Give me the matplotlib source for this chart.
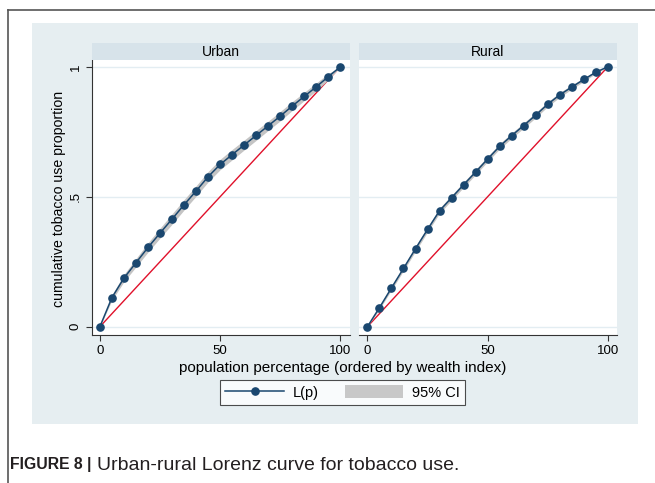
import matplotlib
matplotlib.use("Agg")
import matplotlib.pyplot as plt
from matplotlib.patches import Rectangle, Patch
from matplotlib.lines import Line2D

plt.rcParams['font.family'] = ['Liberation Sans', 'DejaVu Sans']

# population percentage (x) and cumulative tobacco use proportion L(p)
pop_pct = [0, 5, 10, 15, 20, 25, 30, 35, 40, 45, 50,
           55, 60, 65, 70, 75, 80, 85, 90, 95, 100]
urban_lp = [0, 0.112, 0.187, 0.246, 0.305, 0.360, 0.414, 0.469, 0.522, 0.577, 0.624,
            0.662, 0.699, 0.736, 0.773, 0.810, 0.849, 0.886, 0.923, 0.962, 1.0]
rural_lp = [0, 0.073, 0.149, 0.224, 0.300, 0.374, 0.446, 0.496, 0.546, 0.595, 0.645,
            0.694, 0.735, 0.774, 0.814, 0.856, 0.892, 0.922, 0.951, 0.979, 1.0]
# half-width of the 95% CI
urban_ci = [0, 0.010, 0.014, 0.016, 0.018, 0.019, 0.020, 0.020, 0.020, 0.020, 0.020,
            0.020, 0.019, 0.019, 0.018, 0.018, 0.017, 0.016, 0.015, 0.012, 0]
rural_ci = [0, 0.006, 0.008, 0.009, 0.010, 0.010, 0.010, 0.010, 0.010, 0.010, 0.010,
            0.010, 0.010, 0.010, 0.010, 0.009, 0.009, 0.008, 0.007, 0.005, 0]
panels = ["Urban", "Rural"]

W, H = 655, 483
fig = plt.figure(figsize=(W / 100, H / 100), dpi=100)
fig.patch.set_facecolor('white')

def box(x0, y0, x1, y1):
    # pixel box (top-left origin) -> figure fraction rect
    return [x0 / W, 1 - y1 / H, (x1 - x0) / W, (y1 - y0) / H]

# page frame lines and stata background
fig.add_artist(Line2D([7.5 / W, 7.5 / W], [0, 1 - 10 / H], color='#555555', lw=1.2,
                      transform=fig.transFigure))
fig.add_artist(Line2D([7.5 / W, 1], [1 - 10 / H, 1 - 10 / H], color='#555555', lw=1.2,
                      transform=fig.transFigure))
fig.add_artist(Rectangle((32 / W, 1 - 424 / H), (638 - 32) / W, (424 - 23) / H,
                         transform=fig.transFigure, facecolor='#e6eef1', edgecolor='none',
                         zorder=0))

navy = '#1a476f'
red = '#e0112b'
positions = [(91.5, 349.5), (359, 617)]
data = [(urban_lp, urban_ci), (rural_lp, rural_ci)]

for i, (name, (x0, x1), (lp, ci)) in enumerate(zip(panels, positions, data)):
    ax = fig.add_axes(box(x0, 60, x1, 335))
    ax.set_facecolor('white')
    lo = [v - c for v, c in zip(lp, ci)]
    hi = [v + c for v, c in zip(lp, ci)]
    ax.plot([0, 100], [0, 1], color=red, lw=1.0, zorder=1)
    ax.fill_between(pop_pct, lo, hi, color='#c4c4c4', lw=0, zorder=2)
    ax.plot(pop_pct, lp, color=navy, lw=1.1, marker='o', ms=5.2, zorder=3)
    ax.set_xlim(-3.5, 103.8)
    ax.set_ylim(-0.032, 1.026)
    ax.set_xticks([0, 50, 100])
    ax.set_yticks([0, 0.5, 1])
    ax.set_yticklabels(['0', '.5', '1'], rotation=90, va='center')
    ax.grid(axis='y', color='#e3edf2', lw=1.0)
    ax.set_axisbelow(True)
    for s in ['top', 'right']:
        ax.spines[s].set_visible(False)
    ax.spines['left'].set_color('#333333')
    ax.spines['bottom'].set_color('#333333')
    ax.tick_params(length=4, width=0.8, color='#333333', labelsize=9.5, pad=3)
    if i > 0:
        ax.spines['left'].set_visible(False)
        ax.tick_params(axis='y', left=False, labelleft=False)
    # header strip
    hx = fig.add_axes(box(x0, 42.5, x1, 60))
    hx.set_facecolor('#d7e3ea')
    hx.set_xticks([])
    hx.set_yticks([])
    for s in hx.spines.values():
        s.set_visible(False)
    hx.text(0.5, 0.45, name, ha='center', va='center', fontsize=10, transform=hx.transAxes)

fig.text(59 / W, 1 - 199 / H, 'cumulative tobacco use proportion', rotation=90,
         ha='center', va='center', fontsize=10.2)
fig.text(343 / W, 1 - 368 / H, 'population percentage (ordered by wealth index)',
         ha='center', va='center', fontsize=11)

handles = [Line2D([], [], color=navy, lw=1.1, marker='o', ms=5.2),
           Patch(facecolor='#c8c8c8', edgecolor='none')]
leg = fig.legend(handles, ['L(p)', '95% CI'], ncol=2, loc='center',
                 bbox_to_anchor=(342.5 / W, 1 - 392.5 / H), fontsize=10.5,
                 frameon=True, fancybox=False, handlelength=4.0, handleheight=1.0,
                 columnspacing=1.8, borderpad=0.35, handletextpad=0.6,
                 borderaxespad=0)
leg.get_frame().set_edgecolor('#222222')
leg.get_frame().set_linewidth(0.8)

fig.text(10 / W, 1 - 465 / H, 'FIGURE 8 |', fontsize=11.3, fontweight='bold',
         ha='left', va='center', color='#231f20')
fig.text(97 / W, 1 - 465 / H, 'Urban-rural Lorenz curve for tobacco use.', fontsize=14,
         ha='left', va='center', color='#231f20')

fig.savefig('out.png', dpi=100)
